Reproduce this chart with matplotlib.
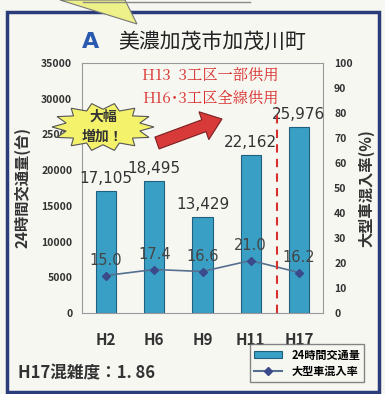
import matplotlib.pyplot as plt
import matplotlib.patches as mpatches
from matplotlib.lines import Line2D
import numpy as np

plt.rcParams['font.family'] = ['Noto Sans CJK JP', 'DejaVu Sans']

# データ
years = ['H2', 'H6', 'H9', 'H11', 'H17']
traffic = [17105, 18495, 13429, 22162, 25976]
traffic_labels = ['17,105', '18,495', '13,429', '22,162', '25,976']
heavy_ratio = [15.0, 17.4, 16.6, 21.0, 16.2]

bg = '#f7f7f2'
bar_color = '#3a9fc4'
line_color = '#55708f'
red = '#d8302e'

fig = plt.figure(figsize=(3.85, 3.94), dpi=100)
fig.patch.set_facecolor(bg)

# 外枠
frame = mpatches.Rectangle((7 / 385, 2 / 394), 372 / 385, 380 / 394, transform=fig.transFigure,
                           fill=False, edgecolor='#2a3d7a', linewidth=2.5)
fig.patches.append(frame)
fig.add_artist(Line2D([83 / 385, 250 / 385], [1 - 2 / 394, 1 - 2 / 394], transform=fig.transFigure,
                      color='#888888', linewidth=1))
# 上の吹き出しのしっぽ
tail = mpatches.Polygon([(60 / 385, 1.0), (125 / 385, 1.0), (137 / 385, 1 - 24 / 394)],
                        closed=True, transform=fig.transFigure, facecolor='#eef08a',
                        edgecolor='#777777', linewidth=0.8)
fig.patches.append(tail)

ax = fig.add_axes([82 / 385, 1 - 313 / 394, 241 / 385, 250 / 394])
ax.set_facecolor(bg)
x = np.arange(len(years))
ax.bar(x, traffic, width=0.42, color=bar_color, edgecolor='#1f5f80', linewidth=0.8, zorder=2)
ax.set_xlim(-0.5, 4.5)
ax.set_ylim(0, 35000)
ax.set_yticks(range(0, 35001, 5000))
ax.set_xticks(x)
ax.set_xticklabels(years, fontsize=11, fontweight='bold', color='#333333')
ax.tick_params(axis='x', length=0, pad=14)
ax.tick_params(axis='y', length=0, labelsize=7.5, pad=7, labelcolor='#333333')
for lbl in ax.get_yticklabels():
    lbl.set_fontweight('bold')
for s in ax.spines.values():
    s.set_color('#999999')
    s.set_linewidth(0.8)
ax.set_ylabel('24時間交通量(台)', fontsize=11, fontweight='bold', color='#333333', labelpad=8)

for xi, v, t in zip(x, traffic, traffic_labels):
    ax.text(xi, v + 700, t, ha='center', va='bottom', fontsize=11, color='#333333',
            family='DejaVu Sans')

ax2 = ax.twinx()
ax2.set_ylim(0, 100)
ax2.set_yticks(range(0, 101, 10))
ax2.tick_params(axis='y', length=0, labelsize=7.5, pad=8, labelcolor='#333333')
for lbl in ax2.get_yticklabels():
    lbl.set_fontweight('bold')
for s in ax2.spines.values():
    s.set_visible(False)
ax2.plot(x, heavy_ratio, color=line_color, marker='D', markersize=4, markerfacecolor='#3a4a8a',
         markeredgecolor='#3a4a8a', linewidth=1.2, zorder=3)
for xi, v in zip(x, heavy_ratio):
    ax2.text(xi, v + 3, f'{v:.1f}', ha='center', va='bottom', fontsize=10.5, color='#444444',
             family='DejaVu Sans')
ax2.set_ylabel('大型車混入率(%)', fontsize=11, fontweight='bold', color='#333333',
               rotation=90, labelpad=4)

# 供用開始の破線
ax2.plot([3.55, 3.55], [0, 82], color=red, linestyle=(0, (4, 3)), linewidth=1.5, zorder=4)

# タイトル
fig.text(91 / 385, 1 - 42 / 394, 'A', fontsize=16, fontweight='bold', color='#2a5ab0',
         ha='center', va='center', family='DejaVu Sans')
fig.text(212 / 385, 1 - 42 / 394, '美濃加茂市加茂川町', fontsize=15, color='#222222',
         ha='center', va='center')

fig.text(210 / 385, 1 - 76 / 394, 'H13  3工区一部供用', fontsize=11, color=red,
         ha='center', va='center', family=['Noto Serif CJK JP', 'Noto Sans CJK JP', 'DejaVu Sans'])
fig.text(210 / 385, 1 - 98 / 394, 'H16･3工区全線供用', fontsize=11, color=red,
         ha='center', va='center', family=['Noto Serif CJK JP', 'Noto Sans CJK JP', 'DejaVu Sans'])

# 大幅増加の星
cx, cy = 103, 127
n = 14
pts = []
for i in range(2 * n):
    ang = np.pi * i / n
    r = 1.0 if i % 2 == 0 else 0.74
    pts.append(((cx + 51 * r * np.cos(ang)) / 385, 1 - (cy + 24 * r * np.sin(ang)) / 394))
star = mpatches.Polygon(pts, closed=True, transform=fig.transFigure, facecolor='#f4f26a',
                        edgecolor='#555555', linewidth=0.8, zorder=5)
fig.patches.append(star)
fig.text(cx / 385, 1 - 117 / 394, '大幅', fontsize=10, style='italic', fontweight='bold',
         color='#333333', ha='center', va='center', zorder=6)
fig.text(cx / 385, 1 - 137 / 394, '増加！', fontsize=10, style='italic', fontweight='bold',
         color='#333333', ha='center', va='center', zorder=6)

# 矢印
arrow = mpatches.FancyArrow(157 / 385, 1 - 143 / 394, 65 / 385, 24 / 394, width=0.032,
                            head_width=0.075, head_length=0.05, length_includes_head=True,
                            transform=fig.transFigure, facecolor='#d83a3a', edgecolor='#7a2020',
                            linewidth=0.8, zorder=5)
fig.patches.append(arrow)

# 凡例
handles = [mpatches.Patch(facecolor=bar_color, edgecolor='#1f5f80', linewidth=0.8),
           Line2D([], [], color=line_color, marker='D', markersize=4, markerfacecolor='#3a4a8a',
                  markeredgecolor='#3a4a8a')]
leg = fig.legend(handles, ['24時間交通量', '大型車混入率'], loc='lower right',
                 bbox_to_anchor=(370 / 385, 6 / 394), fontsize=8, frameon=True, fancybox=False,
                 handlelength=2.5, handleheight=0.6, borderpad=0.4, labelspacing=0.3)
leg.get_frame().set_edgecolor('#666666')
leg.get_frame().set_facecolor(bg)
for t in leg.get_texts():
    t.set_fontweight('bold')

fig.text(18 / 385, 1 - 373 / 394, 'H17混雑度：1. 86', fontsize=12, fontweight='bold',
         color='#333333', ha='left', va='center')

fig.savefig('out.png', dpi=100, facecolor=bg)
